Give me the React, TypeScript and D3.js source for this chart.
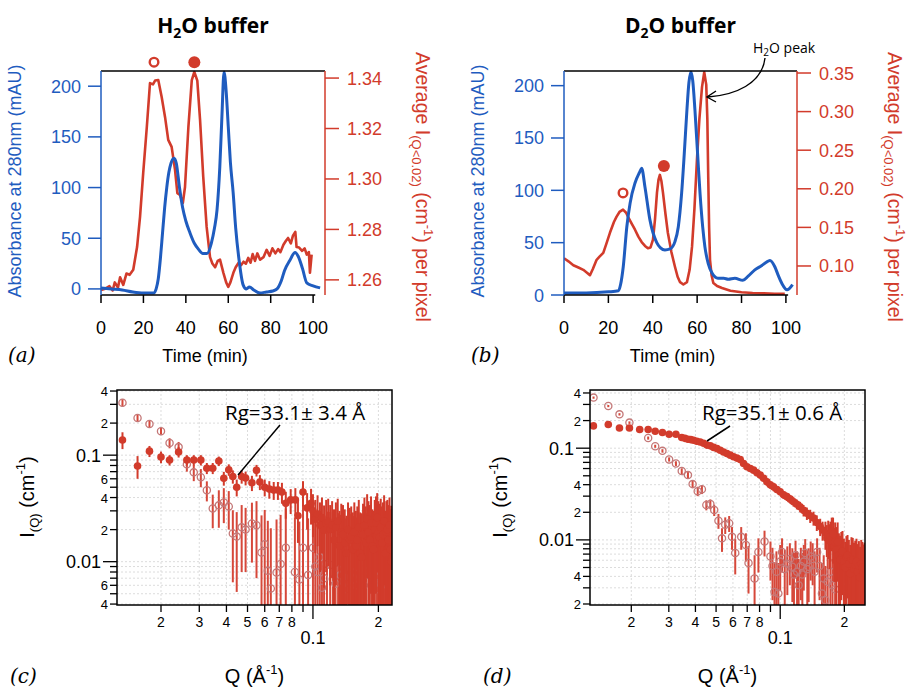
import React from "react";
import * as d3 from "d3";

const W = 911;
const H = 687;
const BLUE = "#1f5cbf";
const RED = "#d23b2b";
const MAUVE = "#c47878";
const SANS = "'Liberation Sans', Arial, sans-serif";
const CAL = "'Open Sans', 'Noto Sans', sans-serif";

// (a) H2O buffer: time (min) vs absorbance (mAU)
const absA = [
  [0, 1], [5, 0], [10, -1], [15, -3], [20, -4], [25, -4], [26, 0], [27, 10], [28, 30], [29, 55],
  [30, 80], [31, 100], [32, 115], [33, 124], [34.4, 129], [35.5, 124], [37, 100], [38.5, 80],
  [40, 67], [42, 55], [44, 45], [46, 39], [48, 35], [50, 35], [52, 45], [53.5, 60], [54.7, 78],
  [56, 120], [57, 170], [58, 214], [59, 195], [60, 160], [61, 125], [62.3, 95], [63.5, 60],
  [65, 30], [67, 4], [68.5, 0], [70, 2], [72, -1], [75, -4], [78, -3], [81, -2], [83, 0],
  [85, 8], [86.5, 18], [89, 28], [91.5, 36], [93, 32], [95, 20], [97, 6], [100, 3], [103.3, 1],
];
// (a) average I(Q<0.02) per pixel
const intA = [
  [0, 1.256], [2, 1.2565], [4, 1.2575], [5.5, 1.2558], [6.5, 1.259], [8, 1.257], [9, 1.261],
  [10.5, 1.258], [12, 1.2625], [13.5, 1.262], [15.2, 1.264], [17, 1.273], [18.4, 1.285],
  [19.9, 1.3024], [21.6, 1.3206], [23.1, 1.338], [24.5, 1.3375], [25.5, 1.339], [27, 1.3392],
  [28.6, 1.3325], [30.2, 1.3245], [31.7, 1.3155], [33.3, 1.3127], [34.9, 1.3036], [36, 1.2944],
  [37.2, 1.2937], [38.6, 1.2905], [39.6, 1.2968], [41.2, 1.3206], [42.8, 1.3392], [44, 1.3424],
  [45.4, 1.339], [46.7, 1.3234], [48.2, 1.3008], [49.8, 1.281], [51.4, 1.269], [52.5, 1.2665],
  [53.8, 1.265], [55, 1.2675], [56.1, 1.268], [57.7, 1.2628], [59, 1.259], [60, 1.2572],
  [61, 1.259], [62.4, 1.2628], [63.5, 1.265], [64.8, 1.2667], [66, 1.2658], [67.2, 1.2672],
  [68.3, 1.2664], [69.4, 1.2687], [70.5, 1.2668], [71.5, 1.2702], [72.6, 1.2675], [73.7, 1.2705],
  [75, 1.268], [76.6, 1.269], [78.1, 1.2719], [79.5, 1.2695], [80.8, 1.2725], [82.2, 1.2705],
  [83.5, 1.2722], [84.6, 1.271], [86, 1.2739], [87.2, 1.2755], [88.2, 1.2766], [89.5, 1.2745],
  [90.5, 1.2775], [91.6, 1.279], [92.2, 1.273], [93.4, 1.2728], [94.8, 1.2715], [96, 1.2725],
  [97, 1.27], [98, 1.271], [98.5, 1.2628], [99.3, 1.27],
];
const markA = [[25, 1.3463, "open"], [44, 1.3463, "filled"]];

// (b) D2O buffer
const absB = [
  [0, 2], [10, 2], [20, 3], [24.5, 4], [25.5, 10], [26.7, 27], [28.3, 65], [29.8, 88], [32, 107],
  [34, 117], [35, 121], [36.5, 103], [38.7, 72], [41.8, 50], [43.5, 45], [45.5, 43], [47.8, 44],
  [50, 51], [51.5, 65], [53, 97], [54.2, 135], [55.4, 177], [56.3, 203], [57.2, 213], [58, 205],
  [59, 177], [60.2, 135], [61.3, 97], [62.5, 65], [63.5, 46], [65, 30], [66.7, 21], [69.4, 16],
  [72, 16], [74, 15], [77, 16], [80.6, 14], [83, 18], [86, 24], [89, 28], [91, 31], [92.8, 33],
  [95, 27], [96.5, 19], [98.2, 11], [100.5, 5], [103, 10],
];
const intB = [
  [0, 0.11], [2, 0.106], [4.2, 0.101], [6.5, 0.098], [8.7, 0.095], [10.5, 0.091], [11.7, 0.088],
  [13, 0.096], [14.7, 0.108], [16, 0.112], [17.7, 0.117], [19, 0.128], [20.7, 0.143],
  [22.5, 0.157], [23.7, 0.164], [25, 0.17], [26.6, 0.173], [28, 0.169], [28.8, 0.164],
  [30.5, 0.155], [32, 0.147], [33.5, 0.138], [35, 0.131], [36.5, 0.126], [37.8, 0.123],
  [39, 0.124], [40.1, 0.134], [41, 0.16], [41.9, 0.195], [42.6, 0.212], [43.2, 0.218],
  [43.9, 0.21], [44.6, 0.195], [45.7, 0.168], [46.8, 0.143], [48.4, 0.118], [50, 0.099],
  [51.2, 0.086], [52.3, 0.079], [53.8, 0.076], [55.4, 0.079], [56.6, 0.095], [57.7, 0.125],
  [58.8, 0.175], [59.9, 0.237], [61, 0.29], [62.2, 0.332], [63.2, 0.351], [64.1, 0.335],
  [64.6, 0.29], [65, 0.215], [65.4, 0.15], [65.8, 0.108], [66.5, 0.088], [67.3, 0.078],
  [69, 0.074], [71.2, 0.0715], [75, 0.068], [80, 0.066], [85, 0.065], [90, 0.0645], [95, 0.064],
  [99.5, 0.064],
];
const markB = [[26.6, 0.1946, "open"], [45, 0.2295, "filled"]];

const timeTicks = [0, 20, 40, 60, 80, 100];
const absTicks = [0, 50, 100, 150, 200];
const redTicksA = [1.26, 1.28, 1.3, 1.32, 1.34];
const redTicksB = [0.1, 0.15, 0.2, 0.25, 0.3, 0.35];

// (c) SANS, H2O buffer: [Q, I, err]
const openC = [
  [0.0133, 0.31, 0.025], [0.0156, 0.223, 0.016], [0.0177, 0.196, 0.014], [0.02, 0.168, 0.012],
  [0.0219, 0.13, 0.014], [0.0241, 0.119, 0.014], [0.0263, 0.082, 0.012], [0.0283, 0.069, 0.012],
  [0.0305, 0.062, 0.012], [0.0325, 0.0468, 0.01], [0.0346, 0.0316, 0.011], [0.0369, 0.0338, 0.013],
  [0.0389, 0.036, 0.013], [0.041, 0.033, 0.013], [0.0428, 0.0184, 0.012], [0.0446, 0.0172, 0.012],
  [0.047, 0.021, 0.013], [0.049, 0.02, 0.012], [0.0524, 0.0228, 0.013], [0.055, 0.022, 0.015],
  [0.058, 0.0122, 0.015], [0.06, 0.0146, 0.016], [0.062, 0.0082, 0.016], [0.064, 0.0056, 0.015],
  [0.068, 0.0079, 0.017], [0.071, 0.0095, 0.018], [0.075, 0.0135, 0.018], [0.0826, 0.008, 0.018],
  [0.0866, 0.0068, 0.017], [0.09, 0.0135, 0.02], [0.095, 0.0075, 0.018], [0.1, 0.0135, 0.02],
  [0.1025, 0.009, 0.018], [0.105, 0.008, 0.018], [0.1075, 0.011, 0.019], [0.11, 0.0057, 0.02],
  [0.1125, 0.007, 0.018], [0.116, 0.0095, 0.02], [0.12, 0.0093, 0.02], [0.1235, 0.0068, 0.019],
  [0.127, 0.0062, 0.02], [0.1305, 0.0085, 0.02], [0.134, 0.0075, 0.02], [0.138, 0.0065, 0.02],
  [0.142, 0.0055, 0.02], [0.146, 0.0072, 0.02], [0.15, 0.008, 0.02], [0.154, 0.0068, 0.02],
  [0.158, 0.006, 0.02], [0.1625, 0.0078, 0.02], [0.167, 0.0085, 0.02], [0.1715, 0.006, 0.021],
  [0.176, 0.0065, 0.022], [0.181, 0.0082, 0.021], [0.186, 0.0075, 0.02], [0.1915, 0.0063, 0.021],
  [0.197, 0.0055, 0.022], [0.2025, 0.0072, 0.022], [0.208, 0.008, 0.022], [0.214, 0.0068, 0.022],
  [0.22, 0.006, 0.022], [0.2245, 0.0088, 0.021], [0.229, 0.0135, 0.02],
];
const fillC = [
  [0.0133, 0.139, 0.025], [0.0156, 0.079, 0.019], [0.0177, 0.109, 0.013], [0.02, 0.096, 0.012],
  [0.0219, 0.09, 0.01], [0.0241, 0.107, 0.012], [0.0263, 0.09, 0.01], [0.0283, 0.09, 0.01],
  [0.0305, 0.09, 0.01], [0.0325, 0.0754, 0.009], [0.0346, 0.0754, 0.009], [0.0369, 0.088, 0.009],
  [0.0389, 0.0607, 0.009], [0.041, 0.073, 0.009], [0.0428, 0.063, 0.009], [0.0446, 0.05, 0.009],
  [0.047, 0.063, 0.009], [0.049, 0.061, 0.009], [0.0524, 0.055, 0.009], [0.055, 0.072, 0.009],
  [0.057, 0.056, 0.009], [0.06, 0.05, 0.009], [0.063, 0.048, 0.009], [0.066, 0.047, 0.009],
  [0.069, 0.047, 0.009], [0.072, 0.045, 0.01], [0.075, 0.0353, 0.01], [0.079, 0.038, 0.01],
  [0.083, 0.038, 0.011], [0.0853, 0.027, 0.012], [0.09, 0.045, 0.012], [0.094, 0.032, 0.012],
  [0.098, 0.0353, 0.013], [0.1, 0.03, 0.013], [0.1025, 0.025, 0.013], [0.105, 0.028, 0.014],
  [0.1077, 0.022, 0.014], [0.11, 0.026, 0.014], [0.1125, 0.0197, 0.014], [0.115, 0.023, 0.015],
  [0.1175, 0.024, 0.015], [0.12, 0.02, 0.014], [0.1225, 0.022, 0.015], [0.125, 0.016, 0.015],
  [0.1275, 0.021, 0.015], [0.13, 0.024, 0.015], [0.1325, 0.014, 0.016], [0.135, 0.019, 0.016],
  [0.1375, 0.018, 0.016], [0.14, 0.015, 0.016], [0.1425, 0.012, 0.015], [0.145, 0.02, 0.016],
  [0.1475, 0.016, 0.016], [0.15, 0.017, 0.016], [0.1525, 0.013, 0.016], [0.155, 0.019, 0.017],
  [0.1575, 0.014, 0.016], [0.16, 0.016, 0.017], [0.1625, 0.021, 0.017], [0.165, 0.012, 0.017],
  [0.1675, 0.011, 0.017], [0.17, 0.018, 0.017], [0.1725, 0.022, 0.018], [0.175, 0.015, 0.018],
  [0.1775, 0.025, 0.018], [0.18, 0.019, 0.018], [0.1825, 0.016, 0.018], [0.185, 0.023, 0.018],
  [0.1875, 0.014, 0.017], [0.19, 0.013, 0.017], [0.1925, 0.02, 0.018], [0.195, 0.023, 0.018],
  [0.1975, 0.026, 0.018], [0.2, 0.019, 0.018], [0.2025, 0.017, 0.018], [0.205, 0.021, 0.018],
  [0.2075, 0.015, 0.018], [0.21, 0.018, 0.018], [0.2125, 0.024, 0.018], [0.215, 0.012, 0.018],
  [0.2175, 0.019, 0.018], [0.22, 0.02, 0.018], [0.2225, 0.016, 0.018], [0.225, 0.022, 0.018],
  [0.2275, 0.013, 0.018], [0.23, 0.01, 0.018],
];

// (d) SANS, D2O buffer: [Q, I, err]
const openD = [
  [0.0133, 0.356, 0.01], [0.0156, 0.288, 0.008], [0.0176, 0.234, 0.007], [0.0196, 0.19, 0.006],
  [0.024, 0.129, 0.005], [0.0259, 0.105, 0.004], [0.028, 0.0935, 0.004], [0.0301, 0.0754, 0.004],
  [0.0324, 0.068, 0.004], [0.0345, 0.0563, 0.004], [0.0369, 0.0509, 0.004], [0.0388, 0.0406, 0.004],
  [0.041, 0.034, 0.004], [0.0429, 0.0356, 0.004], [0.045, 0.024, 0.003], [0.047, 0.0246, 0.003],
  [0.049, 0.0212, 0.003], [0.0513, 0.0162, 0.003], [0.0533, 0.0104, 0.003], [0.0552, 0.0146, 0.003],
  [0.0576, 0.0152, 0.003], [0.0594, 0.0108, 0.003], [0.0615, 0.0072, 0.003], [0.0656, 0.0108, 0.003],
  [0.069, 0.0088, 0.003], [0.071, 0.0056, 0.003], [0.0758, 0.0038, 0.003], [0.079, 0.0074, 0.003],
  [0.0844, 0.0096, 0.003], [0.09, 0.0066, 0.003], [0.092, 0.0052, 0.003], [0.094, 0.0027, 0.003],
  [0.096, 0.0045, 0.003], [0.098, 0.0026, 0.003], [0.1, 0.0058, 0.003], [0.102, 0.0074, 0.003],
  [0.105, 0.0048, 0.003], [0.108, 0.0055, 0.003], [0.111, 0.0062, 0.003], [0.114, 0.0051, 0.003],
  [0.116, 0.0042, 0.003], [0.118, 0.0068, 0.003], [0.12, 0.0045, 0.003], [0.122, 0.0032, 0.003],
  [0.125, 0.0052, 0.003], [0.127, 0.0042, 0.003], [0.129, 0.0058, 0.003], [0.131, 0.0072, 0.003],
  [0.134, 0.0048, 0.003], [0.136, 0.0051, 0.003], [0.139, 0.0066, 0.003], [0.142, 0.0062, 0.003],
  [0.145, 0.0045, 0.003], [0.149, 0.0074, 0.003], [0.153, 0.0052, 0.003], [0.157, 0.0026, 0.003],
  [0.16, 0.0038, 0.003], [0.163, 0.0022, 0.003], [0.167, 0.0035, 0.003], [0.172, 0.0045, 0.003],
  [0.176, 0.0032, 0.003], [0.181, 0.0029, 0.003], [0.19, 0.004, 0.003], [0.2, 0.003, 0.003],
  [0.21, 0.0045, 0.003], [0.22, 0.0035, 0.003], [0.25, 0.0024, 0.003],
];
const fillD = [
  [0.01328, 0.175, 0.004], [0.0156, 0.181, 0.004], [0.0176, 0.166, 0.004], [0.0196, 0.166, 0.004],
  [0.0219, 0.16, 0.004], [0.024, 0.16, 0.004], [0.0259, 0.153, 0.004], [0.028, 0.148, 0.004],
  [0.0301, 0.142, 0.004], [0.0324, 0.142, 0.004], [0.0345, 0.131, 0.004], [0.0357, 0.128, 0.004],
  [0.0369, 0.125, 0.004], [0.038, 0.124, 0.004], [0.0392, 0.122, 0.004], [0.0406, 0.119, 0.004],
  [0.0421, 0.117, 0.004], [0.0437, 0.113, 0.004], [0.0453, 0.108, 0.004], [0.047, 0.106, 0.004],
  [0.0487, 0.102, 0.004], [0.0505, 0.099, 0.004], [0.0523, 0.095, 0.004], [0.0542, 0.091, 0.004],
  [0.0562, 0.0875, 0.004], [0.0583, 0.084, 0.004], [0.0604, 0.0805, 0.004], [0.0626, 0.078, 0.004],
  [0.0649, 0.0754, 0.004], [0.0673, 0.068, 0.004], [0.0698, 0.0627, 0.004], [0.0724, 0.06, 0.004],
  [0.075, 0.0576, 0.004], [0.0778, 0.054, 0.004], [0.0806, 0.0509, 0.004], [0.0836, 0.047, 0.004],
  [0.0866, 0.043, 0.004], [0.0898, 0.04, 0.004], [0.093, 0.038, 0.004], [0.0965, 0.0355, 0.003],
  [0.1, 0.0335, 0.003], [0.1037, 0.031, 0.003], [0.1075, 0.0296, 0.003], [0.1115, 0.0278, 0.003],
  [0.1155, 0.0261, 0.003], [0.1197, 0.0245, 0.003], [0.124, 0.023, 0.003], [0.1287, 0.021, 0.003],
  [0.1334, 0.0195, 0.003], [0.1383, 0.0183, 0.003], [0.1433, 0.0173, 0.003], [0.1485, 0.0155, 0.003],
  [0.154, 0.014, 0.003], [0.158, 0.0128, 0.003], [0.163, 0.0118, 0.004], [0.1655, 0.0105, 0.004],
  [0.168, 0.0112, 0.005], [0.1705, 0.0098, 0.005], [0.172, 0.0108, 0.005], [0.1745, 0.0125, 0.005],
  [0.177, 0.0115, 0.006], [0.179, 0.0085, 0.005], [0.181, 0.0095, 0.006], [0.1835, 0.0078, 0.006],
  [0.186, 0.0095, 0.006], [0.1885, 0.0068, 0.005], [0.191, 0.0061, 0.005], [0.1935, 0.0072, 0.005],
  [0.196, 0.0075, 0.005], [0.199, 0.0058, 0.0045], [0.202, 0.005, 0.0045], [0.2045, 0.0065, 0.0045],
  [0.207, 0.0068, 0.0045], [0.21, 0.0055, 0.0045], [0.213, 0.0043, 0.0045], [0.216, 0.0062, 0.0045],
  [0.219, 0.006, 0.0045], [0.222, 0.0048, 0.0045], [0.225, 0.0053, 0.0045], [0.228, 0.0058, 0.0045],
  [0.231, 0.0045, 0.0045], [0.234, 0.0052, 0.0045], [0.237, 0.0039, 0.0045], [0.24, 0.0055, 0.0045],
  [0.243, 0.005, 0.0045], [0.246, 0.0044, 0.0045], [0.249, 0.0048, 0.0045],
];

const qTicks = [0.02, 0.03, 0.04, 0.05, 0.06, 0.07, 0.08, 0.09, 0.1, 0.2];
const qLabels = { 0.02: "2", 0.03: "3", 0.04: "4", 0.05: "5", 0.06: "6", 0.07: "7", 0.08: "8", 0.2: "2" };
const iTicksC = [0.004, 0.005, 0.006, 0.007, 0.008, 0.009, 0.01, 0.02, 0.03, 0.04, 0.05, 0.06, 0.07, 0.08, 0.09, 0.1, 0.2, 0.3, 0.4];
const iLabelsC = { 0.004: "4", 0.006: "6", 0.02: "2", 0.04: "4", 0.06: "6", 0.2: "2", 0.4: "4" };
const iTicksD = [0.002, 0.003, 0.004, 0.005, 0.006, 0.007, 0.008, 0.009, 0.01, 0.02, 0.03, 0.04, 0.05, 0.06, 0.07, 0.08, 0.09, 0.1, 0.2, 0.3, 0.4];
const iLabelsD = { 0.002: "2", 0.004: "4", 0.02: "2", 0.04: "4", 0.2: "2", 0.4: "4" };

function Chrom(p: any) {
  const { left, right, top, bottom, tMax, blueDom, redDom, redTicks, redFmt, abs, red, marks, title, tag } = p;
  const x = d3.scaleLinear().domain([0, tMax]).range([left, right]);
  const yb = d3.scaleLinear().domain(blueDom).range([bottom, top]);
  const yr = d3.scaleLinear().domain(redDom).range([bottom, top]);
  const lineB = d3.line<any>().x((d) => x(d[0])).y((d) => yb(d[1])).curve(d3.curveMonotoneX);
  const lineR = d3.line<any>().x((d) => x(d[0])).y((d) => yr(d[1]));
  const cx = (left + right) / 2;
  const id = "clip" + tag;
  return (
    <g>
      <defs>
        <clipPath id={id}>
          <rect x={left} y={top - 2} width={right - left} height={bottom - top + 2} />
        </clipPath>
      </defs>
      <text x={cx} y={33} textAnchor="middle" fontFamily={CAL} fontWeight="bold" fontSize={21}>
        {title}<tspan fontSize={14} dy={5}>2</tspan><tspan dy={-5}>O buffer</tspan>
      </text>
      <g clipPath={`url(#${id})`}>
        <path d={lineR(red) || ""} fill="none" stroke={RED} strokeWidth={2.6} strokeLinejoin="round" />
        <path d={lineB(abs) || ""} fill="none" stroke={BLUE} strokeWidth={3} strokeLinejoin="round" />
      </g>
      {marks.map((m: any, i: number) =>
        m[2] === "open" ? (
          <circle key={i} cx={x(m[0])} cy={yr(m[1])} r={4.3} fill="none" stroke={RED} strokeWidth={2.4} />
        ) : (
          <circle key={i} cx={x(m[0])} cy={yr(m[1])} r={6} fill={RED} />
        )
      )}
      <line x1={left} x2={right} y1={top} y2={top} stroke="#000" strokeWidth={1.5} />
      <line x1={left} x2={x(101)} y1={bottom} y2={bottom} stroke="#000" strokeWidth={1.5} />
      <line x1={left} x2={left} y1={top} y2={bottom} stroke={BLUE} strokeWidth={1.5} />
      <line x1={right} x2={right} y1={top} y2={bottom} stroke={RED} strokeWidth={1.5} />
      {timeTicks.map((t) => (
        <g key={t}>
          <line x1={x(t)} x2={x(t)} y1={bottom} y2={bottom + 8} stroke="#000" strokeWidth={1.5} />
          <text x={x(t)} y={334} textAnchor="middle" fontFamily={SANS} fontSize={18}>{t}</text>
        </g>
      ))}
      {absTicks.map((v) => (
        <g key={v}>
          <line x1={left - 13} x2={left} y1={yb(v)} y2={yb(v)} stroke={BLUE} strokeWidth={1.5} />
          <text x={left - 20} y={yb(v) + 6.5} textAnchor="end" fontFamily={SANS} fontSize={18} fill={BLUE}>{v}</text>
        </g>
      ))}
      {redTicks.map((v: number) => (
        <g key={v}>
          <line x1={right} x2={right + 14} y1={yr(v)} y2={yr(v)} stroke={RED} strokeWidth={1.5} />
          <text x={right + 22} y={yr(v) + 6.5} fontFamily={SANS} fontSize={18} fill={RED}>{redFmt(v)}</text>
        </g>
      ))}
      <text transform={`translate(${left - 80},181) rotate(-90)`} textAnchor="middle" fontFamily={SANS} fontSize={18} fill={BLUE}>
        Absorbance at 280nm (mAU)
      </text>
      <text transform={`translate(${right + 91},187) rotate(90)`} textAnchor="middle" fontFamily={SANS} fontSize={19.5} fill={RED}>
        Average I<tspan fontSize={13} dy={4}>(Q&lt;0.02)</tspan><tspan dy={-4}> (cm</tspan><tspan fontSize={13} dy={-8}>-1</tspan><tspan dy={8}>) per pixel</tspan>
      </text>
      <text x={cx - 8} y={362} textAnchor="middle" fontFamily={SANS} fontSize={18}>Time (min)</text>
      <text x={left - 93} y={362} fontFamily="'DejaVu Serif', 'Liberation Serif', serif" fontStyle="italic" fontSize={20}>({tag})</text>
    </g>
  );
}

function Sans(p: any) {
  const { left, right, top, bottom, qDom, iDom, iTicks, iLabels, open, filled, rg, rgLine, tag } = p;
  const x = d3.scaleLog().domain(qDom).range([left, right]);
  const y = d3.scaleLog().domain(iDom).range([bottom, top]);
  const id = "clip" + tag;
  const bar = (d: number[], i: number, color: string) => {
    const lo = Math.max(d[1] - d[2], iDom[0] * 0.5);
    return <line key={i} x1={x(d[0])} x2={x(d[0])} y1={y(lo)} y2={y(d[1] + d[2])} stroke={color} strokeWidth={2} />;
  };
  return (
    <g>
      <defs>
        <clipPath id={id}>
          <rect x={left} y={top} width={right - left} height={bottom - top} />
        </clipPath>
      </defs>
      {qTicks.map((q) => (
        <line key={q} x1={x(q)} x2={x(q)} y1={top} y2={bottom} stroke="#dcdcdc" strokeDasharray="2,2" />
      ))}
      {iTicks.map((v: number) => (
        <line key={v} x1={left} x2={right} y1={y(v)} y2={y(v)} stroke="#dcdcdc" strokeDasharray="2,2" />
      ))}
      <g clipPath={`url(#${id})`}>
        {open.map((d: number[], i: number) => bar(d, i, "#d6483a"))}
        {open.map((d: number[], i: number) => (
          <circle key={"o" + i} cx={x(d[0])} cy={y(d[1])} r={3.6} fill="none" stroke={MAUVE} strokeWidth={1.3} />
        ))}
        {filled.map((d: number[], i: number) => bar(d, i, RED))}
        {filled.map((d: number[], i: number) => (
          <circle key={"f" + i} cx={x(d[0])} cy={y(d[1])} r={3.8} fill={RED} />
        ))}
      </g>
      <rect x={left} y={top} width={right - left} height={bottom - top} fill="none" stroke="#000" strokeWidth={1.5} />
      {iTicks.map((v: number) => {
        const major = v === 0.01 || v === 0.1;
        const lab = major ? String(v) : iLabels[v];
        return (
          <g key={v}>
            <line x1={left - (major ? 14 : 7)} x2={left} y1={y(v)} y2={y(v)} stroke="#000" strokeWidth={1.3} />
            {lab && (
              <text x={left - (major ? 16 : 9)} y={y(v) + (major ? 6.5 : 5)} textAnchor="end" fontFamily={SANS} fontSize={major ? 18 : 13}>
                {lab}
              </text>
            )}
          </g>
        );
      })}
      {qTicks.map((q) => {
        const major = q === 0.1;
        const lab = (qLabels as any)[q];
        return (
          <g key={q}>
            <line x1={x(q)} x2={x(q)} y1={bottom} y2={bottom + (major ? 14 : 7)} stroke="#000" strokeWidth={1.3} />
            {major ? (
              <text x={x(q)} y={bottom + 39} textAnchor="middle" fontFamily={SANS} fontSize={18}>0.1</text>
            ) : lab ? (
              <text x={x(q)} y={bottom + 22} textAnchor="middle" fontFamily={SANS} fontSize={14}>{lab}</text>
            ) : null}
          </g>
        );
      })}
      <text x={rg[0]} y={rg[1]} fontFamily={CAL} fontSize={20.5}>{rg[2]}</text>
      <line x1={rgLine[0]} y1={rgLine[1]} x2={rgLine[2]} y2={rgLine[3]} stroke="#000" strokeWidth={1.5} />
      <text transform={`translate(${left - 83},497) rotate(-90)`} textAnchor="middle" fontFamily={SANS} fontSize={20}>
        I<tspan fontSize={13} dy={5}>(Q)</tspan><tspan dy={-5}> (cm</tspan><tspan fontSize={13} dy={-9}>-1</tspan><tspan dy={9}>)</tspan>
      </text>
      <text x={(left + right) / 2} y={683} textAnchor="middle" fontFamily={SANS} fontSize={20}>
        Q (Å<tspan fontSize={13} dy={-9}>-1</tspan><tspan dy={9}>)</tspan>
      </text>
      <text x={left - 107} y={683} fontFamily="'DejaVu Serif', 'Liberation Serif', serif" fontStyle="italic" fontSize={20}>({tag})</text>
    </g>
  );
}

export default function App() {
  return (
    <svg width={W} height={H} style={{ position: "absolute", left: 0, top: 0, background: "#fff" }}>
      <Chrom left={101} right={325} top={71} bottom={295} tMax={105.6} blueDom={[-6, 215]} redDom={[1.254, 1.3428]}
        redTicks={redTicksA} redFmt={(v: number) => v.toFixed(2)} abs={absA} red={intA} marks={markA} title="H" tag="a" />
      <Chrom left={564} right={797} top={71} bottom={295} tMax={105} blueDom={[0, 214]} redDom={[0.0624, 0.3526]}
        redTicks={redTicksB} redFmt={(v: number) => v.toFixed(2)} abs={absB} red={intB} marks={markB} title="D" tag="b" />
      <text x={753} y={53} fontFamily={CAL} fontSize={14}>
        H<tspan fontSize={10} dy={3}>2</tspan><tspan dy={-3}>O peak</tspan>
      </text>
      <path d="M765,58 C762,84 735,95 708,97" fill="none" stroke="#000" strokeWidth={1.4} />
      <path d="M716,91 L707,97 L716,102" fill="none" stroke="#000" strokeWidth={1.4} />
      <Sans left={117} right={392} top={390} bottom={605} qDom={[0.01255, 0.231]} iDom={[0.00392, 0.409]}
        iTicks={iTicksC} iLabels={iLabelsC} open={openC} filled={fillC}
        rg={[225, 420, "Rg=33.1± 3.4 Å"]} rgLine={[280, 425, 238, 475]} tag="c" />
      <Sans left={590} right={865} top={390} bottom={605} qDom={[0.0128, 0.25]} iDom={[0.00195, 0.431]}
        iTicks={iTicksD} iLabels={iLabelsD} open={openD} filled={fillD}
        rg={[702, 420, "Rg=35.1± 0.6 Å"]} rgLine={[730, 426, 707, 441]} tag="d" />
    </svg>
  );
}
